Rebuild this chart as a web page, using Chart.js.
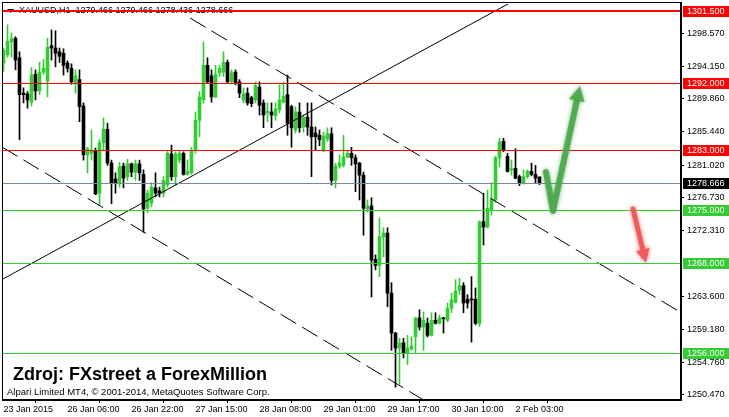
<!DOCTYPE html>
<html>
<head>
<meta charset="utf-8">
<script src="https://cdn.jsdelivr.net/npm/chart.js@4.4.1/dist/chart.umd.min.js"></script>
<style>
html,body{margin:0;padding:0;background:#fff;overflow:hidden}
canvas{display:block}
</style>
</head>
<body>
<canvas id="chart" width="729" height="417"></canvas>
<script>
// XAUUSD H1 candles, 23 Jan 2015 14:00 .. 2 Feb 2015
const open=[
1294.6,1295.7,1297.4,1297.9,1295.3,1290.6,1290.5,1289.4,1293.1,1290.9,
1293.4,1292.2,1296.9,1296.6,1296.1,1295.9,1294.6,1293.9,1292.0,1292.4,
1288.9,1282.4,1282.6,1282.9,1277.3,1284.0,1285.8,1281.3,1279.2,1278.7,
1280.9,1279.5,1281.2,1280.1,1281.2,1279.8,1275.3,1276.0,1278.0,1277.6,
1277.3,1278.4,1282.5,1279.5,1281.7,1282.6,1279.8,1280.0,1283.0,1287.0,
1289.7,1294.3,1292.9,1290.1,1293.3,1293.4,1294.7,1292.1,1293.4,1292.1,
1289.7,1290.6,1290.0,1289.7,1291.4,1289.3,1288.0,1288.1,1287.6,1288.4,
1289.4,1290.4,1288.8,1285.7,1288.1,1286.1,1287.4,1286.1,1285.3,1285.0,
1283.0,1284.5,1285.2,1279.0,1280.9,1281.0,1282.1,1282.6,1282.0,1281.3,
1279.7,1275.2,1275.6,1268.5,1267.7,1271.5,1272.0,1264.0,1258.7,1256.7,
1257.4,1256.0,1256.6,1258.2,1260.7,1259.5,1260.0,1258.4,1260.4,1260.0,
1260.7,1260.4,1262.0,1262.8,1264.4,1265.0,1263.2,1263.2,1263.2,1260.0,
1273.5,1272.8,1275.1,1276.4,1282.0,1284.2,1282.2,1280.4,1280.6,1279.5,
1278.7,1279.5,1280.2,1279.8,1279.466];
const high=[
1296.6,1299.7,1298.6,1298.1,1296.1,1291.3,1290.8,1294.0,1293.7,1294.7,
1295.1,1297.9,1299.0,1298.9,1296.6,1296.5,1294.9,1294.5,1293.7,1293.7,
1289.3,1283.4,1285.7,1283.3,1284.4,1287.3,1286.6,1281.7,1280.0,1281.4,
1281.3,1281.8,1281.3,1281.7,1281.7,1280.4,1277.7,1278.7,1280.0,1278.1,
1279.5,1283.0,1283.7,1282.8,1283.0,1282.8,1281.7,1283.4,1288.1,1290.8,
1297.4,1295.3,1293.7,1294.3,1294.3,1296.1,1295.0,1293.7,1293.7,1292.4,
1291.3,1291.3,1290.2,1292.1,1292.1,1289.7,1289.3,1289.3,1289.3,1291.7,
1292.1,1293.0,1289.0,1288.8,1289.3,1287.7,1289.3,1289.3,1286.1,1285.7,
1285.4,1286.0,1286.0,1281.3,1282.4,1285.0,1283.0,1283.4,1282.4,1281.4,
1280.1,1276.4,1276.7,1269.1,1274.0,1272.7,1272.7,1265.4,1258.8,1258.0,
1258.0,1258.4,1258.2,1260.8,1261.8,1261.5,1260.7,1261.4,1261.4,1261.1,
1260.8,1262.7,1264.0,1265.8,1266.0,1265.4,1263.8,1266.2,1264.7,1273.6,
1277.3,1277.7,1278.7,1282.2,1284.6,1284.6,1282.6,1281.7,1283.2,1279.7,
1280.4,1280.4,1281.3,1281.0,1279.466];
const low=[
1293.5,1295.4,1295.4,1293.7,1284.4,1289.3,1288.6,1288.9,1289.7,1290.4,
1293.1,1290.1,1295.0,1294.1,1294.7,1293.0,1293.4,1291.8,1290.6,1286.8,
1281.7,1280.0,1281.7,1277.1,1275.7,1283.0,1281.0,1275.9,1277.3,1278.1,
1278.0,1279.0,1279.5,1279.0,1279.0,1272.1,1274.7,1275.5,1276.8,1276.8,
1276.8,1278.1,1279.0,1278.4,1281.3,1279.7,1279.7,1279.8,1282.6,1284.8,
1289.3,1292.0,1289.4,1290.0,1292.8,1292.8,1292.0,1291.8,1291.7,1290.0,
1289.3,1289.0,1288.8,1289.3,1287.7,1286.0,1286.8,1286.0,1287.0,1288.0,
1289.3,1285.0,1283.4,1285.3,1285.4,1285.4,1285.0,1279.5,1283.0,1283.6,
1282.8,1284.2,1278.4,1278.0,1280.6,1280.8,1282.0,1281.0,1277.5,1276.4,
1271.7,1274.8,1263.5,1267.1,1266.2,1268.8,1262.2,1256.4,1251.5,1251.9,
1255.4,1254.5,1256.4,1256.0,1259.1,1256.4,1258.2,1258.3,1259.9,1259.9,
1258.7,1260.2,1261.4,1262.7,1263.8,1261.4,1262.0,1257.5,1259.8,1259.6,
1270.4,1272.7,1274.4,1276.1,1280.8,1282.8,1280.1,1279.7,1279.2,1278.3,
1278.5,1279.3,1279.6,1278.7,1278.436];
const close=[
1296.3,1297.5,1297.8,1295.0,1290.4,1290.4,1289.7,1293.0,1290.9,1293.4,
1293.9,1296.7,1296.6,1295.9,1295.5,1294.3,1293.9,1292.1,1292.9,1288.8,
1282.4,1283.2,1283.0,1277.2,1284.0,1285.8,1281.3,1278.7,1278.7,1280.8,
1279.3,1281.2,1280.1,1281.2,1280.0,1275.2,1277.3,1278.1,1277.3,1277.3,
1279.0,1282.6,1279.5,1282.5,1282.6,1279.8,1280.2,1283.0,1287.0,1290.1,
1294.3,1292.1,1290.1,1293.1,1293.9,1294.7,1292.1,1293.3,1292.0,1290.6,
1290.5,1289.3,1289.2,1291.6,1289.0,1287.7,1288.2,1287.7,1288.5,1289.7,
1290.2,1286.6,1286.0,1288.1,1286.0,1287.4,1286.1,1284.8,1284.8,1284.4,
1284.9,1285.2,1279.0,1280.9,1281.3,1282.1,1282.6,1282.0,1281.2,1279.7,
1275.3,1275.6,1268.4,1267.7,1271.5,1272.0,1264.0,1258.7,1256.7,1257.4,
1256.0,1256.7,1257.0,1260.7,1259.5,1260.4,1258.4,1260.4,1260.0,1260.7,
1260.6,1262.0,1263.1,1264.3,1265.0,1262.7,1262.7,1263.1,1260.0,1273.5,
1272.8,1275.3,1276.4,1282.0,1284.1,1283.0,1280.2,1280.5,1279.3,1278.7,
1279.5,1280.2,1279.8,1279.3,1278.666];

const timeTickIdx=[0,16,32,48,64,80,96,112,128];
const timeTickText=["23 Jan 2015","26 Jan 06:00","26 Jan 22:00","27 Jan 15:00","28 Jan 08:00",
  "29 Jan 01:00","29 Jan 17:00","30 Jan 10:00","2 Feb 03:00"];
const priceTicks=[1250.47,1254.76,1259.18,1263.60,1272.31,1276.73,1281.02,1285.44,1289.86,1294.15,1298.57];

// horizontal levels (price)
const levels=[1301.5,1292.0,1283.0,1278.666,1275.0,1268.0,1256.0];
// trend lines: [barIndex, price] pairs
const risingLine=[[-0.375,1265.82],[126.125,1302.46]];
const upperChannel=[[46.625,1300.60],[169.375,1261.42]];
const lowerChannel=[[-0.375,1283.44],[106.625,1249.29]];
// hand-drawn arrows
const greenArrow=[[135.625,1280.12],[137.375,1274.93],[144.125,1291.55]];
const redArrow=[[157.375,1275.20],[160.625,1268.0]];

const header="XAUUSD,H1  1279.466 1279.466 1278.436 1278.666";
const sourceText="Zdroj: FXstreet a ForexMillion";
const copyText="Alpari Limited MT4, \u00a9 2001-2014, MetaQuotes Software Corp.";

/* styles */
const UP="#32cd32", DOWN="#000000";
const levelLine=["#ff0000","#ff0000","#ff0000","#778899","#32cd32","#32cd32","#32cd32"];
const levelTag=["#ff0000","#ff0000","#ff0000","#000000","#32cd32","#32cd32","#32cd32"];
const levelWidth=[2,1,1,1,1,1,1];
const FONT="Liberation Sans, Arial, sans-serif";

const isUp=close.map((c,i)=>c>=open[i]);
const colors=isUp.map(u=>u?UP:DOWN);

function segment(ctx,x,y,pts,dash){
  ctx.setLineDash(dash||[]);
  ctx.beginPath();
  ctx.moveTo(x.getPixelForValue(pts[0][0]),y.getPixelForValue(pts[0][1]));
  ctx.lineTo(x.getPixelForValue(pts[1][0]),y.getPixelForValue(pts[1][1]));
  ctx.stroke();
}

function arrow(ctx,x,y,pts,color,w,headLen,headW){
  const p=pts.map(q=>[x.getPixelForValue(q[0]),y.getPixelForValue(q[1])]);
  const n=p.length, tip=p[n-1], prev=p[n-2];
  const dx=tip[0]-prev[0], dy=tip[1]-prev[1], len=Math.hypot(dx,dy);
  const ux=dx/len, uy=dy/len;
  const bx=tip[0]-ux*headLen, by=tip[1]-uy*headLen;
  ctx.save();
  ctx.shadowColor=color; ctx.shadowBlur=4;
  ctx.strokeStyle=color; ctx.fillStyle=color;
  ctx.lineWidth=w; ctx.lineJoin="round"; ctx.lineCap="round";
  ctx.beginPath();
  ctx.moveTo(p[0][0],p[0][1]);
  for(let i=1;i<n-1;i++) ctx.lineTo(p[i][0],p[i][1]);
  ctx.lineTo(bx,by);
  ctx.stroke();
  ctx.beginPath();
  ctx.moveTo(tip[0],tip[1]);
  ctx.lineTo(bx-uy*headW,by+ux*headW);
  ctx.lineTo(bx+uy*headW,by-ux*headW);
  ctx.closePath();
  ctx.fill();
  ctx.restore();
}

const overlay={
  id:"overlay",
  beforeDatasetsDraw(chart){
    const {ctx}=chart;
    ctx.save();
    ctx.fillStyle="#000";
    ctx.beginPath();
    ctx.moveTo(7,9);ctx.lineTo(14,9);ctx.lineTo(10.5,13);ctx.closePath();ctx.fill();
    ctx.font="9px "+FONT;
    ctx.textBaseline="middle";
    ctx.fillText(header,19,11);
    ctx.restore();
  },
  afterDatasetsDraw(chart){
    const {ctx,chartArea:a,scales:{x,y}}=chart;
    ctx.save();
    ctx.beginPath();
    ctx.rect(a.left,a.top,a.right-a.left,a.bottom-a.top);
    ctx.clip();
    ctx.strokeStyle="#000";
    ctx.lineWidth=1;
    segment(ctx,x,y,risingLine);
    segment(ctx,x,y,upperChannel,[18,7]);
    segment(ctx,x,y,lowerChannel,[18,7]);
    ctx.setLineDash([]);
    levels.forEach((v,i)=>{
      const py=levelWidth[i]%2?Math.round(y.getPixelForValue(v))+0.5:Math.round(y.getPixelForValue(v));
      ctx.strokeStyle=levelLine[i];
      ctx.lineWidth=levelWidth[i];
      ctx.beginPath();ctx.moveTo(a.left,py);ctx.lineTo(a.right,py);ctx.stroke();
    });
    arrow(ctx,x,y,greenArrow,"rgba(70,165,70,0.85)",6,15,8);
    arrow(ctx,x,y,redArrow,"rgba(240,85,85,0.9)",5,14,7);
    ctx.restore();

    // frame
    ctx.save();
    ctx.strokeStyle="#000";ctx.lineWidth=1;
    ctx.strokeRect(a.left+0.5,a.top+0.5,a.right-a.left-1,a.bottom-a.top-1);
    ctx.restore();

    // price tags on the axis
    ctx.save();
    ctx.font="9px "+FONT;
    ctx.textBaseline="middle";
    levels.forEach((v,i)=>{
      const py=Math.round(y.getPixelForValue(v));
      ctx.fillStyle=levelTag[i];
      ctx.fillRect(a.right+2,py-5,46,11);
      ctx.fillStyle="#fff";
      ctx.fillText(v.toFixed(3),a.right+6,py+0.5);
    });
    ctx.restore();

    // captions
    ctx.save();
    ctx.fillStyle="#000";
    ctx.textBaseline="alphabetic";
    ctx.font="bold 18px "+FONT;
    ctx.fillText(sourceText,13,380);
    ctx.font="9.5px "+FONT;
    ctx.fillText(copyText,7,395);
    ctx.restore();
  }
};

const idx=open.map((_,i)=>i);

new Chart(document.getElementById("chart"),{
  type:"bar",
  data:{
    datasets:[
      {
        label:"body",
        data:idx.map(i=>({x:i,y:[open[i],close[i]]})),
        backgroundColor:colors,
        barThickness:3,
        minBarLength:1,
        grouped:false,
        order:1
      },
      {
        label:"wick",
        data:idx.map(i=>({x:i,y:[low[i],high[i]]})),
        backgroundColor:colors,
        barThickness:1,
        grouped:false,
        order:2
      }
    ]
  },
  options:{
    responsive:false,
    animation:false,
    devicePixelRatio:1,
    layout:{padding:{left:2,top:2,right:0,bottom:0}},
    plugins:{legend:{display:false},tooltip:{enabled:false}},
    scales:{
      x:{
        type:"linear",
        min:-0.375,
        max:169.375,
        offset:false,
        afterBuildTicks:s=>{s.ticks=timeTickIdx.map(v=>({value:v}));},
        afterFit:s=>{s.height=17;s.paddingLeft=0;s.paddingRight=0;},
        grid:{drawOnChartArea:false,drawTicks:true,tickLength:3,color:"#000"},
        border:{display:true,color:"#000"},
        ticks:{
          autoSkip:false,maxRotation:0,minRotation:0,align:"start",padding:1,
          color:"#000",font:{family:FONT,size:9},
          callback:v=>timeTickText[timeTickIdx.indexOf(v)]
        }
      },
      y:{
        type:"linear",
        position:"right",
        min:1249.80,
        max:1302.72,
        afterBuildTicks:s=>{s.ticks=priceTicks.map(v=>({value:v}));},
        afterFit:s=>{s.width=48;s.paddingTop=0;s.paddingBottom=0;},
        grid:{drawOnChartArea:false,drawTicks:true,tickLength:3,color:"#000"},
        border:{display:true,color:"#000"},
        ticks:{
          padding:3,color:"#000",font:{family:FONT,size:9},
          callback:v=>v.toFixed(3)
        }
      }
    }
  },
  plugins:[overlay]
});
</script>
</body>
</html>
